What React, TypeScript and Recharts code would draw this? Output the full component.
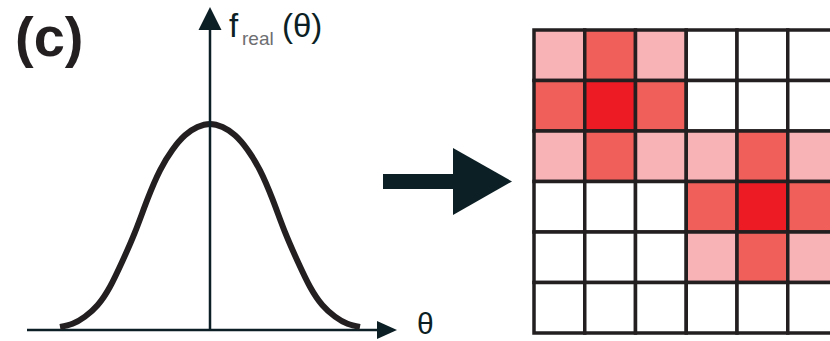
import React from "react";
import {
  ComposedChart,
  Line,
  Scatter,
  XAxis,
  YAxis,
  ReferenceLine,
  ReferenceArea,
} from "recharts";

// gaussian (theta in 50px units, f normalised to the peak)
const thetas = [
  -3, -2.75, -2.5, -2.25, -2, -1.75, -1.5, -1.25, -1, -0.75, -0.5, -0.25, 0,
  0.25, 0.5, 0.75, 1, 1.25, 1.5, 1.75, 2, 2.25, 2.5, 2.75, 3,
];
const fReal = [
  0.015, 0.03, 0.065, 0.12, 0.21, 0.335, 0.475, 0.635, 0.775, 0.875, 0.945, 0.985, 1,
  0.985, 0.945, 0.875, 0.775, 0.635, 0.475, 0.335, 0.21, 0.12, 0.065, 0.03, 0.015,
];

// pixel grid on the right: 0 = empty, 1 = light, 2 = medium, 3 = strong
const gridRows = [0, 1, 2, 3, 4, 5];
const gridCols = [0, 1, 2, 3, 4, 5];
const levels = [
  [1, 2, 1, 0, 0, 0],
  [2, 3, 2, 0, 0, 0],
  [1, 2, 1, 1, 2, 1],
  [0, 0, 0, 2, 3, 2],
  [0, 0, 0, 1, 2, 1],
  [0, 0, 0, 0, 0, 0],
];

const curveData = thetas.map((t, i) => ({ theta: t, f: fReal[i] }));
const cells = gridRows.flatMap((r) =>
  gridCols.map((c) => ({ col: c + 0.5, row: r + 0.5, level: levels[r][c] }))
);

const levelColors = ["#ffffff", "#f8b3b6", "#f05f59", "#ed1c24"];
const ink = "#0c1f24";

function arrow(headLen: number, headHalf: number, width: number, color: string) {
  return (props: any) => {
    const { x1, y1, x2, y2 } = props;
    const len = Math.hypot(x2 - x1, y2 - y1) || 1;
    const ux = (x2 - x1) / len;
    const uy = (y2 - y1) / len;
    const bx = x2 - ux * headLen;
    const by = y2 - uy * headLen;
    const px = -uy * headHalf;
    const py = ux * headHalf;
    return (
      <g>
        <line x1={x1} y1={y1} x2={bx + ux} y2={by + uy} stroke={color} strokeWidth={width} />
        <polygon
          points={`${x2},${y2} ${bx + px},${by + py} ${bx - px},${by - py}`}
          fill={color}
        />
      </g>
    );
  };
}

export default function App() {
  return (
    <div style={{ position: "absolute", left: 0, top: 0, width: 830, height: 341, background: "#fff", overflow: "hidden" }}>
      <div style={{ position: "absolute", left: 0, top: 0 }}>
        <ComposedChart width={830} height={341} data={curveData} margin={{ top: 0, right: 0, bottom: 0, left: 0 }}>
          <XAxis dataKey="theta" type="number" domain={[-4.2, 12.4]} hide />
          <YAxis type="number" domain={[-0.0534, 1.602]} hide />
          <ReferenceLine
            segment={[{ x: -3.66, y: 0 }, { x: 3.74, y: 0 }]}
            shape={arrow(20, 9, 2.5, ink)}
          />
          <Line
            dataKey="f"
            type="natural"
            stroke="#231f20"
            strokeWidth={6}
            dot={false}
            activeDot={false}
            isAnimationActive={false}
          />
          <ReferenceLine
            segment={[{ x: 0, y: 0 }, { x: 0, y: 1.568 }]}
            shape={arrow(23, 11.5, 2.5, ink)}
          />
          <ReferenceLine
            segment={[{ x: 3.46, y: 0.721 }, { x: 6.04, y: 0.721 }]}
            shape={arrow(59, 33.5, 15, ink)}
          />
        </ComposedChart>
      </div>

      <div style={{ position: "absolute", left: 532, top: 28 }}>
        <ComposedChart width={298} height={307} data={cells} margin={{ top: 2, right: 0, bottom: 2, left: 2 }}>
          <XAxis dataKey="col" type="number" domain={[0, 296 / 50.75]} allowDataOverflow hide />
          <YAxis dataKey="row" type="number" domain={[0, 6]} reversed hide />
          <Scatter data={cells} dataKey="row" shape={() => <g />} isAnimationActive={false} />
          {gridRows.map((r) =>
            gridCols.map((c) => (
              <ReferenceArea
                key={`${r}-${c}`}
                x1={c}
                x2={c + 1}
                y1={r}
                y2={r + 1}
                ifOverflow="visible"
                fill={levelColors[levels[r][c]]}
                fillOpacity={1}
                stroke="#231f20"
                strokeWidth={3.5}
              />
            ))
          )}
        </ComposedChart>
      </div>

      <svg width={830} height={341} style={{ position: "absolute", left: 0, top: 0, pointerEvents: "none" }}>
        <text x={15} y={56} fontFamily="Liberation Sans, Arial, sans-serif" fontWeight="bold" fontSize={56} fill="#231f20">
          (c)
        </text>
        <text x={229} y={37} fontFamily="Liberation Sans, Arial, sans-serif" fontSize={33} fill={ink}>
          f
        </text>
        <text x={242} y={45} fontFamily="Liberation Sans, Arial, sans-serif" fontSize={19} fill="#6d6e71">
          real
        </text>
        <text x={282} y={37} fontFamily="Liberation Sans, Arial, sans-serif" fontSize={33} fill={ink}>
          (θ)
        </text>
        <text x={417} y={334} fontFamily="Liberation Sans, Arial, sans-serif" fontSize={30} fill={ink}>
          θ
        </text>
      </svg>
    </div>
  );
}
